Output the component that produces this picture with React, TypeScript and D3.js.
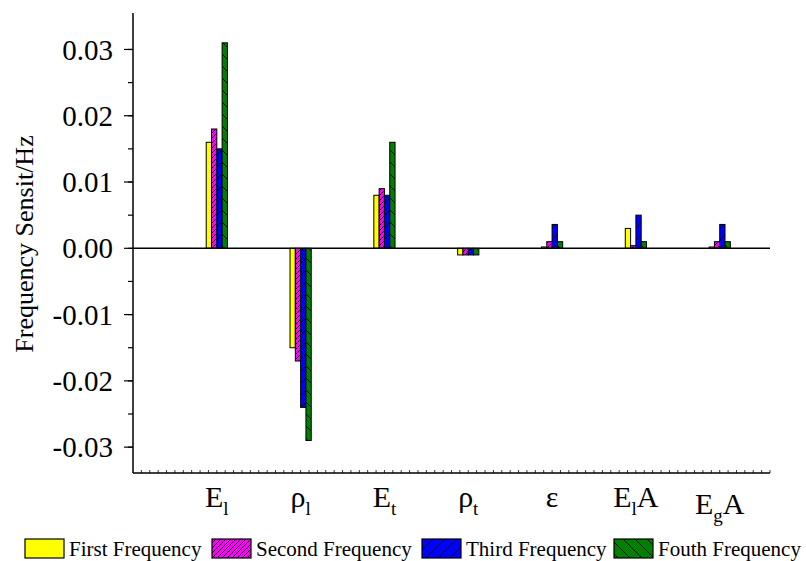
import React from "react";
import * as d3 from "d3";

// parameters on the x axis (main glyph, subscript, trailing glyph)
const labelMain = ["E", "ρ", "E", "ρ", "ε", "E", "E"];
const labelSub = ["l", "l", "t", "t", "", "l", "g"];
const labelTail = ["", "", "", "", "", "A", "A"];

const seriesNames = ["First Frequency", "Second Frequency", "Third Frequency", "Fouth Frequency"];

// frequency sensitivities
const first = [0.016, -0.015, 0.008, -0.001, 0.0002, 0.003, 0.0002];
const second = [0.018, -0.017, 0.009, -0.001, 0.001, 0.0004, 0.001];
const third = [0.015, -0.024, 0.008, -0.001, 0.0036, 0.005, 0.0036];
const fourth = [0.031, -0.029, 0.016, -0.001, 0.001, 0.001, 0.001];

const yTicks = [-0.03, -0.02, -0.01, 0, 0.01, 0.02, 0.03];

const series = [first, second, third, fourth];
const fills = ["#FFFF00", "url(#hatchMag)", "url(#hatchBlue)", "url(#hatchGreen)"];

const font = "'Liberation Serif', 'Times New Roman', serif";

export default function App() {
  const width = 806,
    height = 561;

  const x = d3.scaleLinear().domain([0, 7.6]).range([133, 770]);
  const y = d3.scaleLinear().domain([-0.0339, 0.0355]).range([473, 13]);
  const inner = d3.scaleBand().domain(seriesNames).range([-10.6, 10.6]).padding(0);

  const minorY = y.ticks(14).filter((t) => Math.abs(t) <= 0.0301);
  const minorX = d3.range(1, 77).map((d) => d / 10);

  const fmt = (v) => {
    const s = Math.abs(v).toFixed(2);
    return v < 0 ? "-" + s : s;
  };

  // legend layout (box left edges)
  const legendX = [25, 212, 422, 614];

  return (
    <svg
      width={width}
      height={height}
      style={{ position: "absolute", left: 0, top: 0, background: "#fff" }}
      fontFamily={font}
    >
      <defs>
        <pattern id="hatchMag" patternUnits="userSpaceOnUse" width="5" height="5">
          <rect width="5" height="5" fill="#FF00FF" />
          <path d="M-1,1 L1,-1 M0,5 L5,0 M4,6 L6,4" stroke="#000" strokeWidth="1" />
        </pattern>
        <pattern id="hatchBlue" patternUnits="userSpaceOnUse" width="12" height="12">
          <rect width="12" height="12" fill="#0000FF" />
          <path d="M-1,1 L1,-1 M0,12 L12,0 M11,13 L13,11" stroke="#000" strokeWidth="1" />
        </pattern>
        <pattern id="hatchGreen" patternUnits="userSpaceOnUse" width="12" height="12">
          <rect width="12" height="12" fill="#008000" />
          <path d="M-1,11 L1,13 M0,0 L12,12 M11,-1 L13,1" stroke="#000" strokeWidth="1" />
        </pattern>
      </defs>

      {/* bars */}
      {labelMain.map((_, i) =>
        series.map((vals, s) => {
          const v = vals[i];
          const y0 = y(0);
          const y1 = y(v);
          return (
            <rect
              key={i + "-" + s}
              x={x(i + 1) + inner(seriesNames[s])}
              y={Math.min(y0, y1)}
              width={inner.bandwidth()}
              height={Math.abs(y1 - y0)}
              fill={fills[s]}
              stroke="#000"
              strokeWidth={1}
            />
          );
        })
      )}

      {/* zero line */}
      <line x1={x(0)} x2={x(7.6)} y1={y(0)} y2={y(0)} stroke="#000" strokeWidth={1.5} />

      {/* y axis */}
      <line x1={x(0)} x2={x(0)} y1={y(0.0355)} y2={y(-0.0339)} stroke="#000" strokeWidth={1.5} />
      {minorY.map((t) => (
        <line key={"m" + t} x1={x(0) - 5} x2={x(0)} y1={y(t)} y2={y(t)} stroke="#000" strokeWidth={1.2} />
      ))}
      {yTicks.map((t) => (
        <g key={"t" + t}>
          <line x1={x(0) - 9} x2={x(0)} y1={y(t)} y2={y(t)} stroke="#000" strokeWidth={1.2} />
          <text x={113} y={y(t)} dy="0.35em" textAnchor="end" fontSize={29} fill="#000">
            {fmt(t)}
          </text>
        </g>
      ))}
      <text
        transform={`translate(33,244) rotate(-90)`}
        textAnchor="middle"
        fontSize={26}
        fill="#000"
      >
        Frequency Sensit/Hz
      </text>

      {/* x axis */}
      <line x1={x(0)} x2={x(7.6)} y1={y(-0.0339)} y2={y(-0.0339)} stroke="#000" strokeWidth={1.5} />
      {minorX.map((t) => (
        <line key={"x" + t} x1={x(t)} x2={x(t)} y1={y(-0.0339) - 3} y2={y(-0.0339)} stroke="#000" strokeWidth={0.8} />
      ))}
      {labelMain.map((m, i) => (
        <text
          key={"c" + i}
          x={x(i + 1)}
          y={labelSub[i] === "g" ? 514 : 507}
          textAnchor="middle"
          fontSize={30}
          fill="#000"
        >
          <tspan>{m}</tspan>
          {labelSub[i] && (
            <tspan fontSize={19} dy={8}>
              {labelSub[i]}
            </tspan>
          )}
          {labelTail[i] && (
            <tspan fontSize={30} dy={-8}>
              {labelTail[i]}
            </tspan>
          )}
        </text>
      ))}

      {/* legend */}
      {seriesNames.map((name, s) => (
        <g key={"l" + s}>
          <rect x={legendX[s]} y={539} width={39} height={19} fill={fills[s]} stroke="#000" strokeWidth={1.2} />
          <text x={legendX[s] + 44} y={556} fontSize={21} fill="#000">
            {name}
          </text>
        </g>
      ))}
    </svg>
  );
}
